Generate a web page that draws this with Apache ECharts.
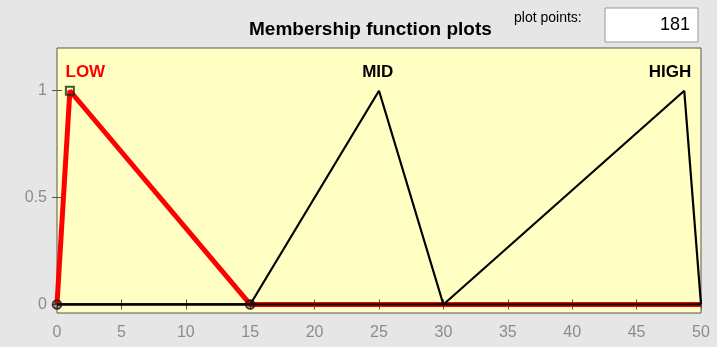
<!DOCTYPE html>
<html><head><meta charset="utf-8">
<script src="https://cdn.jsdelivr.net/npm/echarts@6/dist/echarts.min.js"></script>
<style>html,body{margin:0;padding:0;background:#e6e6e6}#c{width:717px;height:347px}</style>
</head><body><div id="c"></div>
<script>
const xTicks = [0,5,10,15,20,25,30,35,40,45,50];
const yTicks = [0,0.5,1];
const lowX = [0,1,15,50];
const lowY = [0,1,0,0];
const midX = [0,15,25,30,50];
const midY = [0,0,1,0,0];
const highX = [0,30,48.7,50];
const highY = [0,0,1,0];
const labelNames = ['LOW','MID','HIGH'];
const labelX = [2.2,24.9,47.6];
const labelY = [1.085,1.085,1.085];
const plotPoints = '181';

const zip = (a,b)=>a.map((v,i)=>[v,b[i]]);
const chart = echarts.init(document.getElementById('c'));
const tickStyle = {fontFamily:'Liberation Sans, Arial', fontSize:16, color:'#8c8c8c'};
chart.setOption({
  backgroundColor:'#e6e6e6',
  animation:false,
  grid:{left:57,right:16,top:48,bottom:34,show:true,backgroundColor:'#ffffc4',borderColor:'#555',borderWidth:1},
  xAxis:[
    {type:'value',min:0,max:50,interval:5,position:'bottom',
     axisLine:{show:false},axisTick:{show:true,inside:true,length:5,lineStyle:{color:'#555'}},
     splitLine:{show:false},axisLabel:Object.assign({margin:12},tickStyle)},
    {type:'value',min:0,max:50,interval:5,position:'top',
     axisLine:{show:false},axisTick:{show:true,inside:true,length:5,lineStyle:{color:'#555'}},
     splitLine:{show:false},axisLabel:{show:false}}
  ],
  yAxis:[
    {type:'value',min:-0.04,max:1.2,position:'left',
     axisLine:{show:false},axisTick:{show:true,inside:true,length:5,customValues:yTicks,lineStyle:{color:'#555'}},
     splitLine:{show:false},axisLabel:Object.assign({margin:10,customValues:yTicks},tickStyle)},
    {type:'value',min:-0.04,max:1.2,position:'right',
     axisLine:{show:false},axisTick:{show:true,inside:true,length:5,customValues:yTicks,lineStyle:{color:'#555'}},
     splitLine:{show:false},axisLabel:{show:false}}
  ],
  series:[
    {type:'line',data:zip(lowX,lowY),symbol:'none',lineStyle:{color:'#ff0000',width:5},z:2},
    {type:'line',data:zip(midX,midY),symbol:'none',lineStyle:{color:'#000',width:2.2},z:3},
    {type:'line',data:zip(highX,highY),symbol:'none',lineStyle:{color:'#000',width:2.2},z:3},
    {type:'scatter',data:[[lowX[1],lowY[1]]],symbol:'rect',symbolSize:8,
     itemStyle:{color:'transparent',borderColor:'#1a2a10',borderWidth:2},z:5},
    {type:'scatter',data:[[lowX[0],lowY[0]],[lowX[2],lowY[2]]],symbol:'circle',symbolSize:9,
     itemStyle:{color:'rgba(60,20,10,0.5)',borderColor:'#111',borderWidth:1.5},z:5},
    {type:'scatter',symbolSize:0,z:6,
     data:labelNames.map((n,i)=>({value:[labelX[i],labelY[i]],name:n,
       label:{show:true,position:'inside',formatter:n,fontFamily:'Liberation Sans, Arial',fontWeight:'bold',fontSize:17,
              color:i===0?'#ff0000':'#000',opacity:1}}))}
  ],
  graphic:[
    {type:'text',left:249,top:20,style:{text:'Membership function plots',font:'bold 19px "Liberation Sans", Arial',fill:'#000'}},
    {type:'text',left:514,top:11,style:{text:'plot points:',font:'14px "Liberation Sans", Arial',fill:'#000'}},
    {type:'rect',shape:{x:605,y:8,width:93,height:34},style:{fill:'#fff',stroke:'#999',lineWidth:1}},
    {type:'text',right:27,top:16,style:{text:plotPoints,font:'18px "Liberation Sans", Arial',fill:'#000',align:'right'}}
  ]
});
</script></body></html>
